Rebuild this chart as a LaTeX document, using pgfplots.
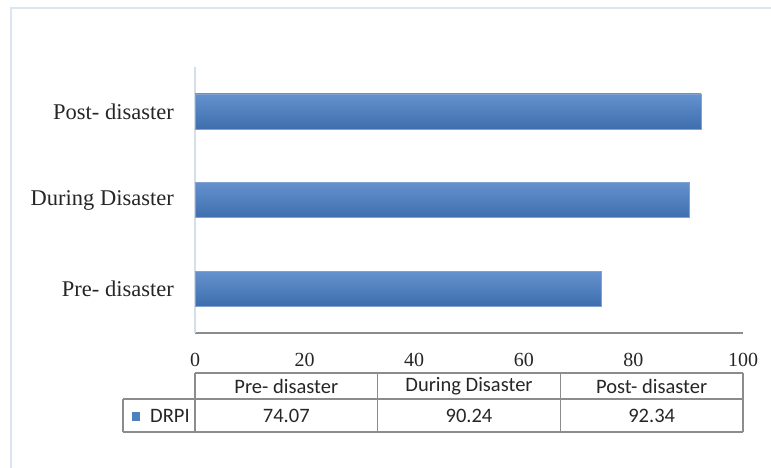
\documentclass[border=0pt]{standalone}
\usepackage{fontspec}
\setmainfont{Liberation Serif}
\newfontfamily\calibri{Carlito}
\usepackage{pgfplots}
\pgfplotsset{compat=1.18}
\definecolor{barTop}{HTML}{6592CE}
\definecolor{barBot}{HTML}{3E6EAE}
\definecolor{barEdge}{HTML}{7FA2D3}
\definecolor{frameC}{HTML}{DCE6F2}
\definecolor{yaxC}{HTML}{D5DEE9}
\definecolor{xaxC}{HTML}{8C8C8C}
\definecolor{tabC}{HTML}{8C8C8C}
\definecolor{txtC}{HTML}{262626}
\definecolor{legC}{HTML}{4F81BD}
\begin{document}
\begin{tikzpicture}[x=1pt,y=1pt]
\useasboundingbox (0,0) rectangle (771,-468);
% outer frame
\draw[frameC, line width=1.5pt] (11,-480) -- (11,-8) -- (790,-8);
\begin{axis}[
  at={(195pt,-333pt)}, anchor=south west,
  width=548pt, height=266pt, scale only axis,
  xmin=0, xmax=100, ymin=-0.5, ymax=2.5,
  axis x line*=bottom, axis y line*=left,
  x axis line style={draw=xaxC, line width=1.4pt, -},
  y axis line style={draw=yaxC, line width=1.2pt, -},
  major tick length=0pt,
  xtick={0,20,40,60,80,100},
  ytick={0,1,2},
  yticklabels={Pre- disaster, During Disaster, Post- disaster},
  /pgf/number format/assume math mode=true,
  xticklabel style={font=\fontsize{20}{22}\selectfont, text=txtC, anchor=center, inner sep=0pt, yshift=-27pt},
  yticklabel style={font=\fontsize{22.5}{26}\selectfont, text=txtC, anchor=east, inner sep=0pt, xshift=-21pt},
  xbar, bar width=35pt, bar shift=0pt,
  clip=false,
  barstyle/.style={xbar, bar width=35pt, bar shift=0pt, draw=barEdge, line width=0.6pt, top color=barTop, bottom color=barBot},
]
\addplot[barstyle] coordinates {(74.07,0)};
\addplot[barstyle] coordinates {(90.24,1)};
\addplot[barstyle] coordinates {(92.34,2)};
\end{axis}
% data table
\begin{scope}[tabC, line width=1.3pt]
\draw (195,-373) -- (743,-373);
\draw (123,-399) -- (743,-399);
\draw (123,-432) -- (743,-432);
\draw (123,-399) -- (123,-432);
\draw (195,-373) -- (195,-432);
\draw (377.7,-373) -- (377.7,-432);
\draw (560.3,-373) -- (560.3,-432);
\draw (743,-373) -- (743,-432);
\end{scope}
\begin{scope}[every node/.style={font=\calibri\fontsize{20.5}{24}\selectfont, text=txtC, inner sep=0pt}]
\node at (286.3,-386) {Pre- disaster};
\node at (469,-386) {During Disaster};
\node at (651.7,-386) {Post- disaster};
\node at (286.3,-416) {74.07};
\node at (469,-416) {90.24};
\node at (651.7,-416) {92.34};
\node[anchor=west] at (150,-416) {DRPI};
\end{scope}
\fill[legC] (132,-412) rectangle (140,-421);
\end{tikzpicture}
\end{document}
